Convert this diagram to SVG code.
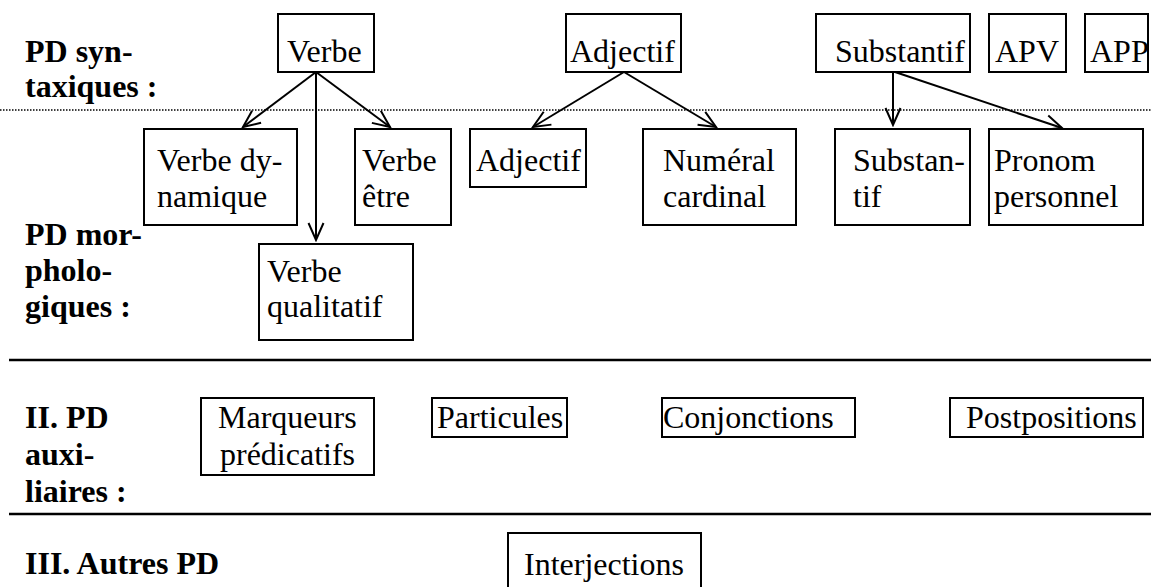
<svg xmlns="http://www.w3.org/2000/svg" width="1151" height="587" viewBox="0 0 1151 587">
<style>
.b{fill:#fff;stroke:#000;stroke-width:2}
.t{font-size:32px;fill:#000}
.l{font-size:32px;font-weight:bold;fill:#000}
.c{fill:none;stroke:#000;stroke-width:2}
.sep{stroke:#000;stroke-width:2.5}
</style>
<defs>
<marker id="ah" markerUnits="userSpaceOnUse" viewBox="-19 -9 21 18" refX="0" refY="0" markerWidth="21" markerHeight="18" orient="auto">
<path d="M-17,-7.5 L0,0 L-17,7.5" fill="none" stroke="#000" stroke-width="2"/>
</marker>
</defs>
<rect width="1151" height="587" fill="#fff"/>
<g font-family="Liberation Serif, Times New Roman, Times, serif">
<g id="separators">
<line x1="0" y1="110" x2="1151" y2="110" stroke="#000" stroke-width="1.5" stroke-dasharray="1.5,1.5"/>
<line class="sep" x1="9" y1="360" x2="1151" y2="360"/>
<line class="sep" x1="9" y1="514" x2="1151" y2="514"/>
</g>
<g id="labels">
<text class="l" x="25" y="62">PD syn-</text>
<text class="l" x="25" y="97">taxiques :</text>
<text class="l" x="25" y="245">PD mor-</text>
<text class="l" x="25" y="281">pholo-</text>
<text class="l" x="25" y="317">giques :</text>
<text class="l" x="25" y="428">II. PD</text>
<text class="l" x="25" y="465">auxi-</text>
<text class="l" x="25" y="502">liaires :</text>
<text class="l" x="25" y="574">III. Autres PD</text>
</g>
<g id="connectors">
<line class="c" x1="316" y1="72" x2="243" y2="127" marker-end="url(#ah)"/>
<line class="c" x1="316" y1="72" x2="390" y2="127" marker-end="url(#ah)"/>
<line class="c" x1="316" y1="72" x2="316" y2="240" marker-end="url(#ah)"/>
<line class="c" x1="624" y1="72" x2="533" y2="127" marker-end="url(#ah)"/>
<line class="c" x1="624" y1="72" x2="716" y2="127" marker-end="url(#ah)"/>
<line class="c" x1="893" y1="72" x2="893" y2="125" marker-end="url(#ah)"/>
<line class="c" x1="895" y1="72" x2="1062" y2="128" marker-end="url(#ah)"/>
</g>
<g id="verbe"><rect class="b" x="278" y="14" width="96" height="58"/><text class="t" x="287" y="62">Verbe</text></g>
<g id="adjectif"><rect class="b" x="566" y="14" width="115" height="58"/><text class="t" x="570" y="62">Adjectif</text></g>
<g id="substantif"><rect class="b" x="816" y="14" width="154" height="58"/><text class="t" x="835" y="62">Substantif</text></g>
<g id="apv"><rect class="b" x="989" y="14" width="77" height="58"/><text class="t" x="995" y="62">APV</text></g>
<g id="app"><rect class="b" x="1085" y="14" width="63" height="58"/><text class="t" x="1090" y="62">APP</text></g>
<g id="verbe-dynamique"><rect class="b" x="144" y="129" width="153" height="96"/><text class="t" x="157" y="171">Verbe dy-</text><text class="t" x="157" y="207">namique</text></g>
<g id="verbe-etre"><rect class="b" x="355" y="129" width="96" height="96"/><text class="t" x="362" y="171">Verbe</text><text class="t" x="362" y="207">être</text></g>
<g id="adjectif-morph"><rect class="b" x="470" y="129" width="116" height="58"/><text class="t" x="476" y="171">Adjectif</text></g>
<g id="numeral-cardinal"><rect class="b" x="643" y="129" width="153" height="96"/><text class="t" x="663" y="171">Numéral</text><text class="t" x="663" y="207">cardinal</text></g>
<g id="substantif-morph"><rect class="b" x="835" y="129" width="135" height="96"/><text class="t" x="853" y="171">Substan-</text><text class="t" x="853" y="207">tif</text></g>
<g id="pronom-personnel"><rect class="b" x="989" y="129" width="154" height="96"/><text class="t" x="994" y="171">Pronom</text><text class="t" x="994" y="207">personnel</text></g>
<g id="verbe-qualitatif"><rect class="b" x="259" y="244" width="154" height="96"/><text class="t" x="267" y="282">Verbe</text><text class="t" x="267" y="317">qualitatif</text></g>
<g id="marqueurs"><rect class="b" x="201" y="398" width="173" height="77"/><text class="t" x="218" y="428">Marqueurs</text><text class="t" x="220" y="465">prédicatifs</text></g>
<g id="particules"><rect class="b" x="432" y="398" width="135" height="39"/><text class="t" x="437" y="428">Particules</text></g>
<g id="conjonctions"><rect class="b" x="662" y="398" width="193" height="39"/><text class="t" x="663" y="428">Conjonctions</text></g>
<g id="postpositions"><rect class="b" x="950" y="398" width="193" height="39"/><text class="t" x="966" y="428">Postpositions</text></g>
<g id="interjections"><rect class="b" x="508" y="533" width="193" height="70"/><text class="t" x="524" y="575">Interjections</text></g>
</g>
</svg>
